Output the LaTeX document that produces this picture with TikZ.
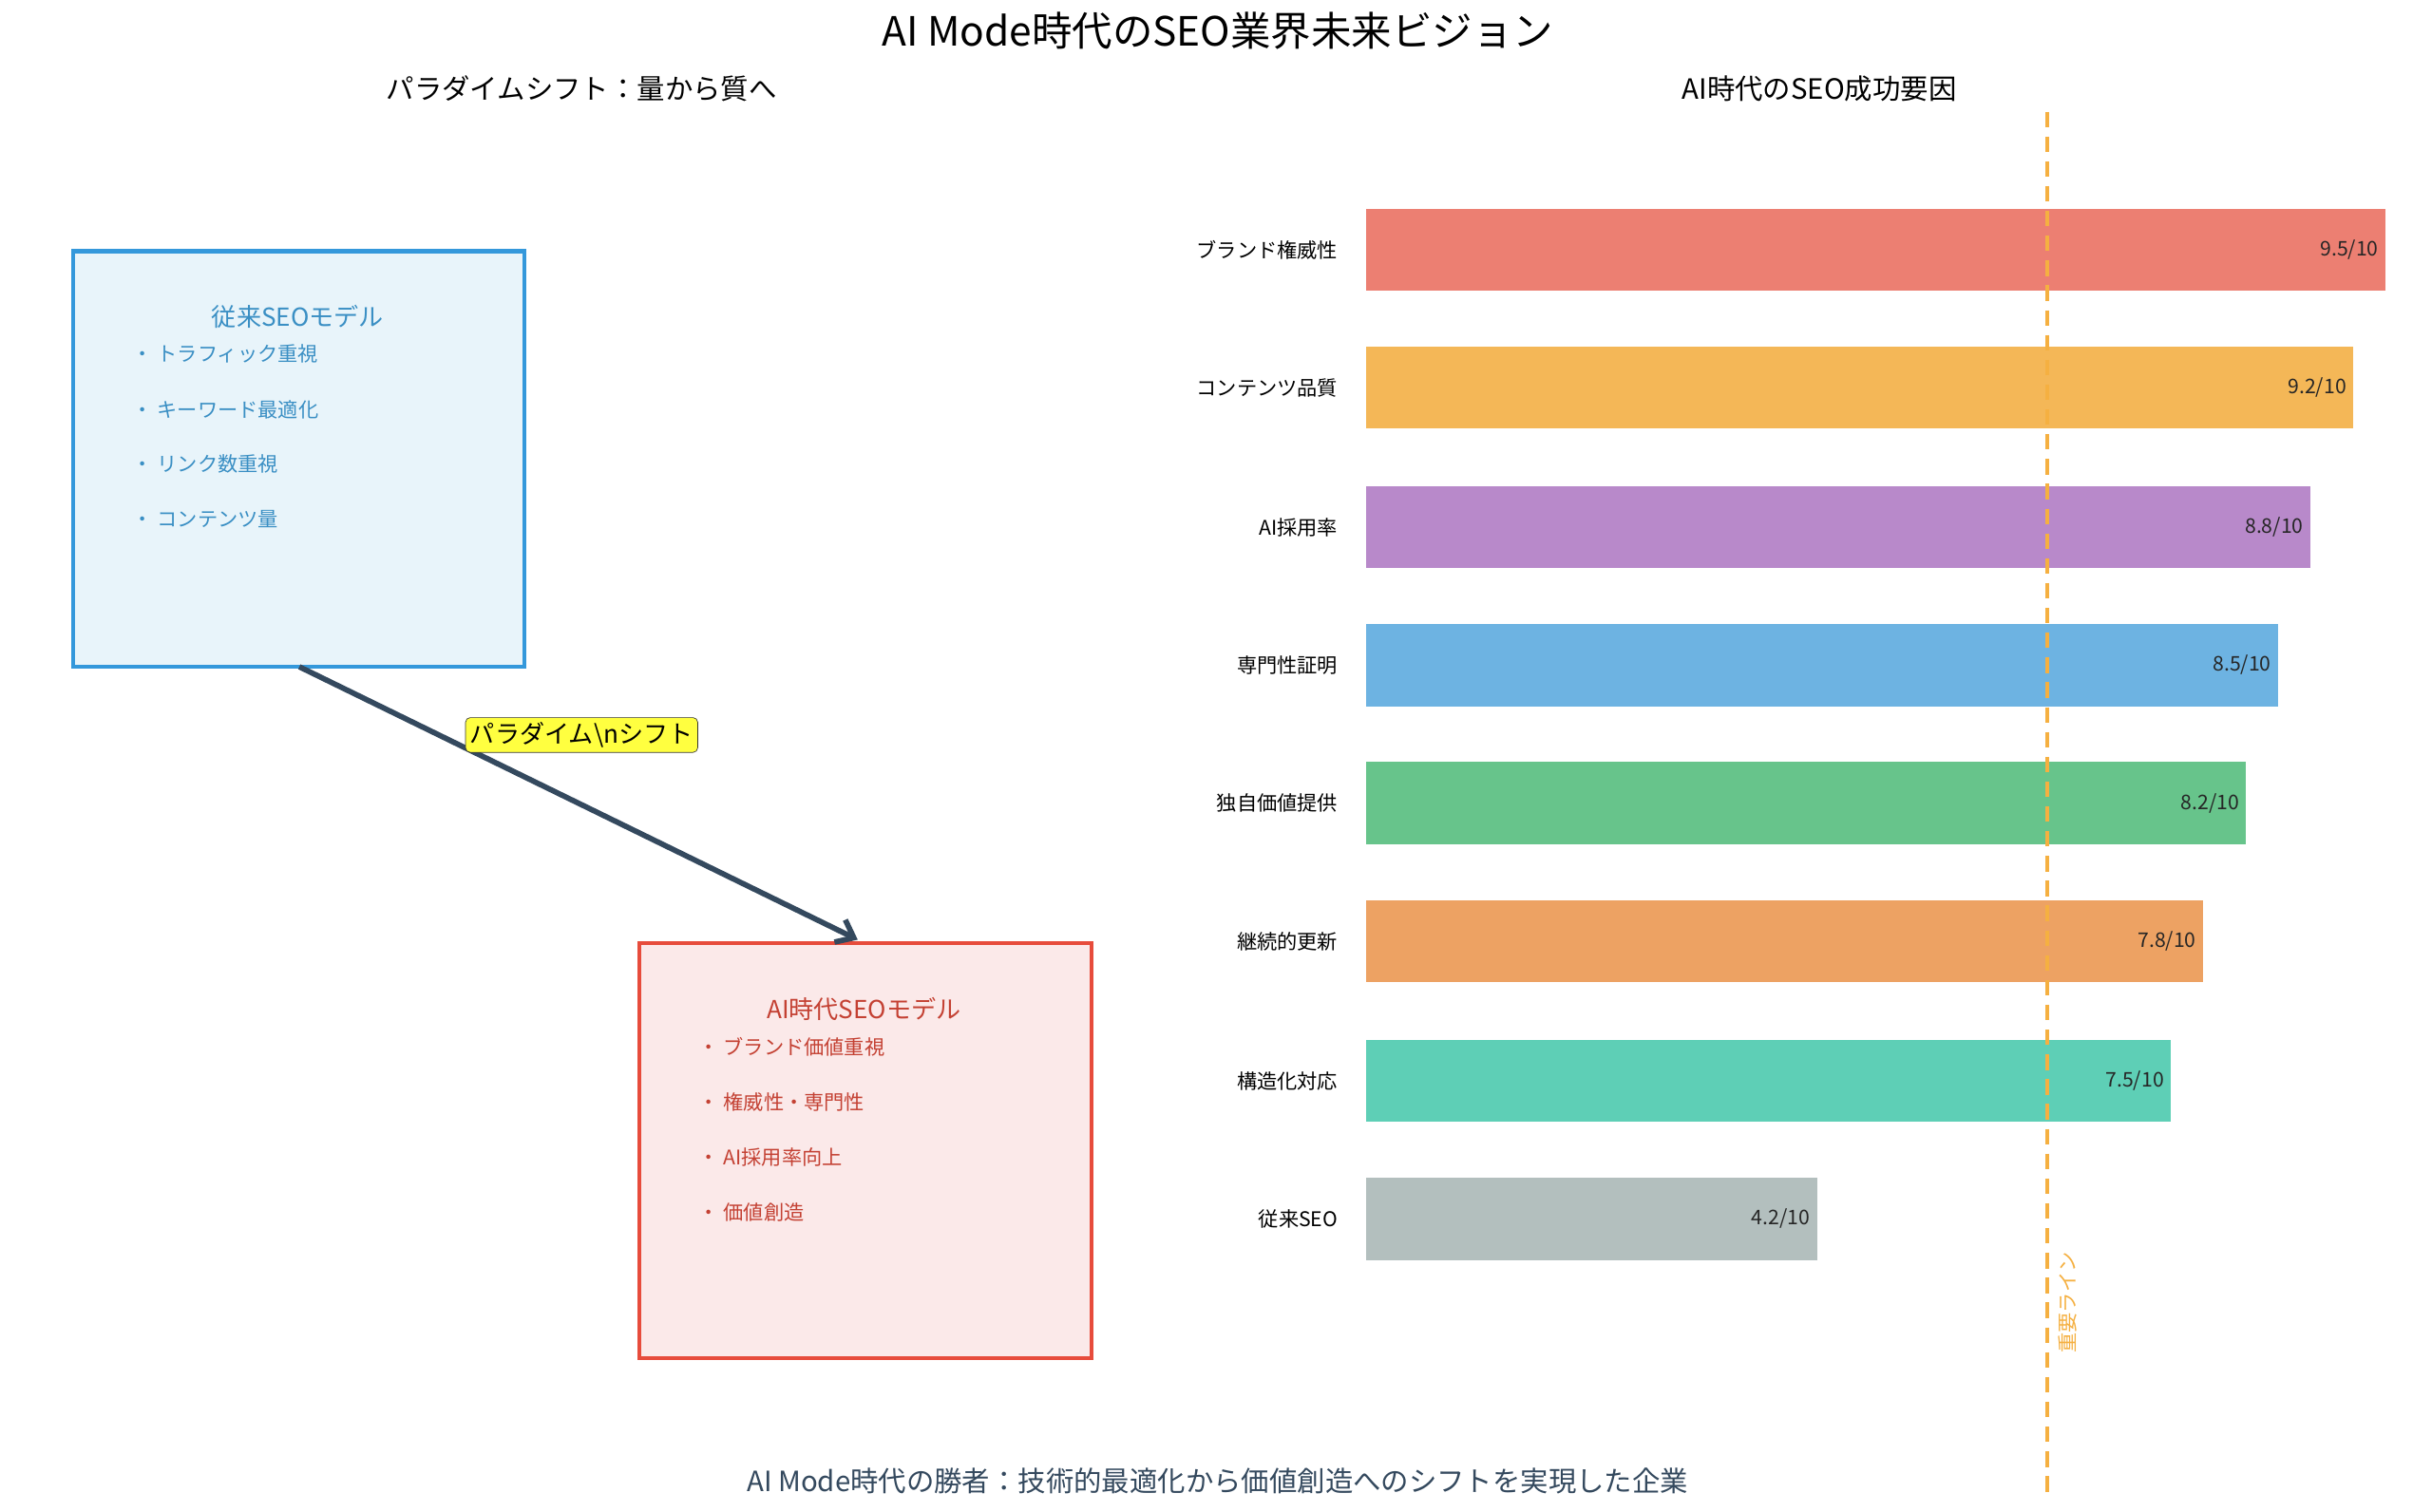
\documentclass[tikz,border=0pt]{standalone}
\usepackage{fontspec}
\setmainfont{Noto Sans CJK JP}
\usetikzlibrary{arrows.meta}
\definecolor{dk}{HTML}{34495E}
\definecolor{bl}{HTML}{3498DB}
\definecolor{rd}{HTML}{E74C3C}
\definecolor{org}{HTML}{F5B041}
\tikzset{
 fs/.style={font=\fontsize{#1}{#1}\selectfont},
 bul/.style={anchor=west,fs=13},
 lab/.style={anchor=east,fs=13,text=black},
 val/.style={anchor=east,fs=13,text=black!85},
 bar/.style={draw=none},
}
\begin{document}
\begin{tikzpicture}[x=1pt,y=-1pt]
\useasboundingbox[fill=white] (0,0) rectangle (1568,975);
\node[fs=26] (title) at (785,20) {AI Mode時代のSEO業界未来ビジョン};
\node[fs=18] (st1) at (375,57) {パラダイムシフト：量から質へ};
\node[fs=18] (st2) at (1173,57) {AI時代のSEO成功要因};
% boxes
\draw[bl,line width=2.5pt,fill={rgb,255:red,232;green,244;blue,250}] (47,162) rectangle (338,430);
\coordinate (b1) at (193,430);
\node[fs=16,text={rgb,255:red,58;green,143;blue,196}] (t1) at (192,204) {従来SEOモデル};
\foreach \y/\t in {228/トラフィック重視,264/キーワード最適化,299/リンク数重視,335/コンテンツ量}
  \node[bul,text={rgb,255:red,58;green,143;blue,196}] at (82,\y) {・ \t};
\draw[rd,line width=2.5pt,fill={rgb,255:red,251;green,233;blue,233}] (412,608) rectangle (704,876);
\coordinate (b2) at (553,606);
\node[fs=16,text=rd!85!black] (t2) at (557,651) {AI時代SEOモデル};
\foreach \y/\t in {675/ブランド価値重視,711/権威性・専門性,746/AI採用率向上,782/価値創造}
  \node[bul,text=rd!85!black] at (447,\y) {・ \t};
\draw[dk,line width=3.5pt,-{Straight Barb[length=10pt,width=16pt]}] (b1) -- (b2);
\node[fs=16,fill={rgb,255:red,255;green,255;blue,64},draw=black!80,rounded corners=3pt,inner sep=3pt] (pl) at (375,474) {パラダイム\textbackslash nシフト};
% bars
\def\sc{69.16}
\foreach \v/\y/\c/\n in {9.5/161/EC7F72/ブランド権威性,9.2/250/F4B757/コンテンツ品質,8.8/340/B889CA/AI採用率,8.5/429/6DB3E2/専門性証明,8.2/518/67C48B/独自価値提供,7.8/607/EDA263/継続的更新,7.5/697/5ECFB6/構造化対応,4.2/786/B3BFBE/従来SEO}{
  \definecolor{cc}{HTML}{\c}
  \fill[cc] (881,\y-26.5) rectangle ({881+\v*\sc},\y+26.5);
  \node[lab] at (866,\y) {\n};
  \node[val] at ({881+\v*\sc-1},\y) {\v/10};
}
\coordinate (l1) at (1320,72);
\coordinate (l2) at (1320,965);
\draw[org,line width=2.5pt,dash pattern=on 10pt off 6pt] (l1) -- (l2);
\node[fs=13,text=org,rotate=90] (imp) at (1333,840) {重要ライン};
\node[fs=18,text=dk] (bottom) at (785,955) {AI Mode時代の勝者：技術的最適化から価値創造へのシフトを実現した企業};
\end{tikzpicture}
\end{document}
